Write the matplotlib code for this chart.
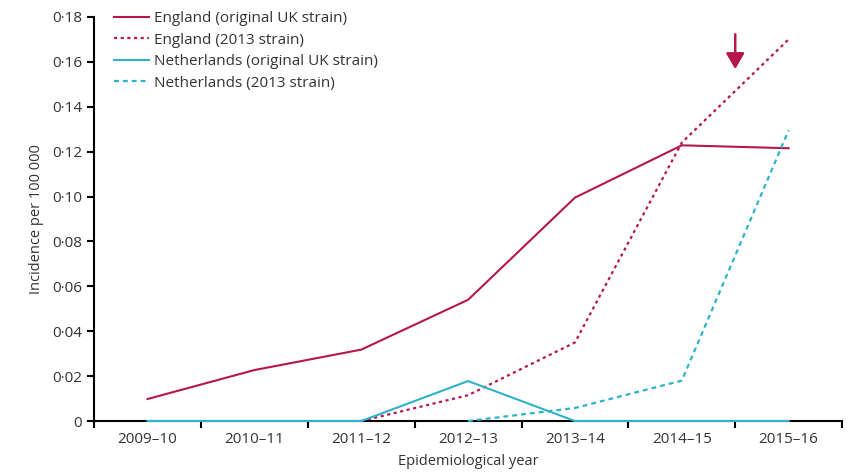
import matplotlib
matplotlib.use('Agg')
import matplotlib.pyplot as plt

years = ["2009–10", "2010–11", "2011–12", "2012–13", "2013–14", "2014–15", "2015–16"]
eng_orig = [0.0098, 0.0227, 0.0318, 0.054, 0.0995, 0.1228, 0.1215]
eng_2013 = [None, None, 0.0, 0.0115, 0.035, 0.124, 0.170]
nl_orig = [0.0, 0.0, 0.0, 0.0178, 0.0, 0.0, 0.0]
nl_2013 = [None, None, None, 0.0, 0.0058, 0.018, 0.1295]
yticks = [0, 0.02, 0.04, 0.06, 0.08, 0.10, 0.12, 0.14, 0.16, 0.18]
arrow_year = 5.5

red = "#b5174b"
cyan = "#2db3c9"

plt.rcParams['font.family'] = ['Open Sans', 'DejaVu Sans']
fig = plt.figure(figsize=(8.48, 4.76), dpi=100)
ax = fig.add_axes([0.111, 0.1155, 0.882, 0.849])


def pts(vals):
    xs = [i for i, v in enumerate(vals) if v is not None]
    ys = [v for v in vals if v is not None]
    return xs, ys


x, y = pts(eng_orig)
ax.plot(x, y, color=red, lw=1.5, label="England (original UK strain)", clip_on=False, zorder=4)
x, y = pts(eng_2013)
ax.plot(x, y, color=red, lw=1.6, dashes=(1.4, 1.6), label="England (2013 strain)", clip_on=False, zorder=4)
x, y = pts(nl_orig)
ax.plot(x, y, color=cyan, lw=1.5, label="Netherlands (original UK strain)", clip_on=False, zorder=5)
x, y = pts(nl_2013)
ax.plot(x, y, color=cyan, lw=1.6, dashes=(2.2, 1.8), label="Netherlands (2013 strain)", clip_on=False, zorder=4)

ax.annotate("", xy=(arrow_year, 0.1555), xytext=(arrow_year, 0.1735),
            arrowprops=dict(arrowstyle="-|>,head_length=0.6,head_width=0.35", color=red, lw=1.8, mutation_scale=16))

ax.set_xlim(-0.5, len(years) - 0.5)
ax.set_ylim(0, 0.18)
ax.set_xticks([i - 0.5 for i in range(len(years) + 1)])
ax.set_xticklabels([])
ax.set_xticks(range(len(years)), minor=True)
ax.set_xticklabels(years, minor=True)
ax.tick_params(axis='x', which='minor', length=0, pad=8, labelsize=11, colors='#333333')
ax.tick_params(axis='x', which='major', length=5, width=1.5, direction='out')
ax.set_yticks(yticks)
ax.set_yticklabels(["0"] + [f"{v:.2f}".replace(".", "·") for v in yticks[1:]])
ax.tick_params(axis='y', length=5, width=1.5, labelsize=11, colors='#333333')
ax.tick_params(axis='both', color='black')

for s in ["top", "right"]:
    ax.spines[s].set_visible(False)
ax.spines["left"].set_linewidth(1.5)
ax.spines["bottom"].set_linewidth(1.5)

ax.set_xlabel("Epidemiological year", fontsize=10.5, color='#333333', labelpad=5)
ax.set_ylabel("Incidence per 100 000", fontsize=10.5, color='#333333', labelpad=6)

leg = ax.legend(loc="upper left", bbox_to_anchor=(0.008, 1.048), frameon=False, fontsize=11,
                handlelength=2.3, handletextpad=0.35, labelspacing=0.42)
for t in leg.get_texts():
    t.set_color('#333333')

fig.savefig("out.png", dpi=100)
